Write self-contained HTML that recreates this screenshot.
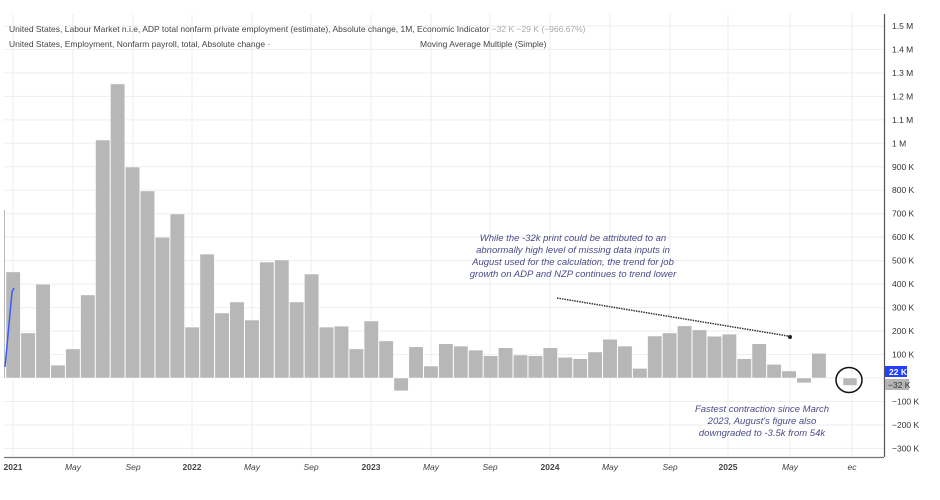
<!DOCTYPE html>
<html><head><meta charset="utf-8"><style>
html,body{margin:0;padding:0;background:#fff;}
svg{display:block;font-family:"Liberation Sans",sans-serif;}
</style></head><body>
<svg id="c" width="940" height="500" viewBox="0 0 940 500" xmlns="http://www.w3.org/2000/svg">
<rect width="940" height="500" fill="#fff"/>
<g id="grid" stroke="#eeeeee" stroke-width="1"></g>
<g id="bars" fill="#b7b7b7" stroke="#fff" stroke-width="0.5"></g>
<line x1="4.5" y1="210" x2="4.5" y2="378" stroke="#bbb" stroke-width="1"/>
<polyline points="5,367 12,292 14,288" fill="none" stroke="#3b5bff" stroke-width="1.5"/>
<line x1="884.5" y1="14" x2="884.5" y2="457" stroke="#555" stroke-width="1.2"/>
<line x1="4" y1="457.5" x2="884" y2="457.5" stroke="#777" stroke-width="1.2"/>
<g id="ylab" font-size="8.5" fill="#333"></g>
<g id="xlab" font-size="8.5" fill="#444"></g>
<text x="9" y="32" font-size="8.5" fill="#444">United States, Labour Market n.i.e, ADP total nonfarm private employment (estimate), Absolute change, 1M, Economic Indicator <tspan fill="#aaa">−32 K  −29 K (−966.67%)</tspan></text>
<text x="9" y="47" font-size="8.5" fill="#444">United States, Employment, Nonfarm payroll, total, Absolute change ·</text>
<text x="420" y="47" font-size="8.5" fill="#444">Moving Average Multiple (Simple)</text>
<g font-size="9.5" font-style="italic" fill="#4a4a8a" text-anchor="middle">
<text x="573" y="241">While the -32k print could be attributed to an</text>
<text x="573" y="253">abnormally high level of missing data inputs in</text>
<text x="573" y="265">August used for the calculation, the trend for job</text>
<text x="573" y="277">growth on ADP and NZP continues to trend lower</text>
<text x="762" y="412">Fastest contraction since March</text>
<text x="762" y="424">2023, August's figure also</text>
<text x="762" y="436">downgraded to -3.5k from 54k</text>
</g>
<line x1="557" y1="298" x2="788" y2="336" stroke="#333" stroke-width="1.5" stroke-dasharray="1.5,1"/>
<circle cx="790" cy="337" r="2" fill="#222"/>
<ellipse cx="849" cy="380" rx="13" ry="12.5" fill="none" stroke="#111" stroke-width="1.5"/>
<rect x="885" y="366" width="22" height="11" fill="#2440ff"/>
<text x="889" y="375" font-size="8.5" fill="#fff" font-weight="bold">22 K</text>
<rect x="885" y="379" width="24" height="11" fill="#b5b5b5"/>
<text x="888" y="388" font-size="8.5" fill="#333">−32 K</text>
</svg>
<script>
const ns="http://www.w3.org/2000/svg";
const z=378, k=0.2347;
const vals=[452,192,400,55,124,354,1014,1253,899,797,600,699,217,528,277,324,247,494,503,324,443,217,221,124,
243,158,-55,133,51,146,136,119,95,129,98,95,
129,88,82,111,165,136,41,179,192,222,205,178,
187,82,146,58,30,-21,105];
const bars=document.getElementById('bars'),grid=document.getElementById('grid');
function el(t,a,p,txt){const e=document.createElementNS(ns,t);for(const q in a)e.setAttribute(q,a[q]);if(txt)e.textContent=txt;p.appendChild(e);return e;}
for(let v=-300;v<=1500;v+=100){const y=z-v*k;el('line',{x1:4,x2:884,y1:y,y2:y},grid);}
const xt=[[13,'2021'],[73,'May'],[133,'Sep'],[192,'2022'],[252,'May'],[311,'Sep'],[371,'2023'],[431,'May'],[490,'Sep'],[550,'2024'],[610,'May'],[670,'Sep'],[728,'2025'],[790,'May'],[852,'ec']];
xt.forEach(t=>el('line',{x1:t[0],x2:t[0],y1:14,y2:457},grid));
vals.forEach((v,i)=>{const cx=13+14.92*i;const h=Math.abs(v)*k;el('rect',{x:cx-7,y:v>=0?z-h:z,width:14.4,height:h},bars);});
el('rect',{x:843,y:z,width:14,height:32*k},bars);
const yl=document.getElementById('ylab');
for(let v=-300;v<=1500;v+=100){if(v==0)continue;const y=z-v*k+3;let s;if(v>=1000){s=(v/1000)+' M';}else s=(v<0?'−'+(-v):v)+' K';
el('text',{x:892,y:y},yl,s);}
const xl=document.getElementById('xlab');
xt.forEach(t=>{const b=/^\d/.test(t[1]);el('text',{x:t[0],y:470,'text-anchor':'middle','font-weight':b?'bold':'normal','font-style':b?'normal':'italic'},xl,t[1]);});
</script>
</body></html>
